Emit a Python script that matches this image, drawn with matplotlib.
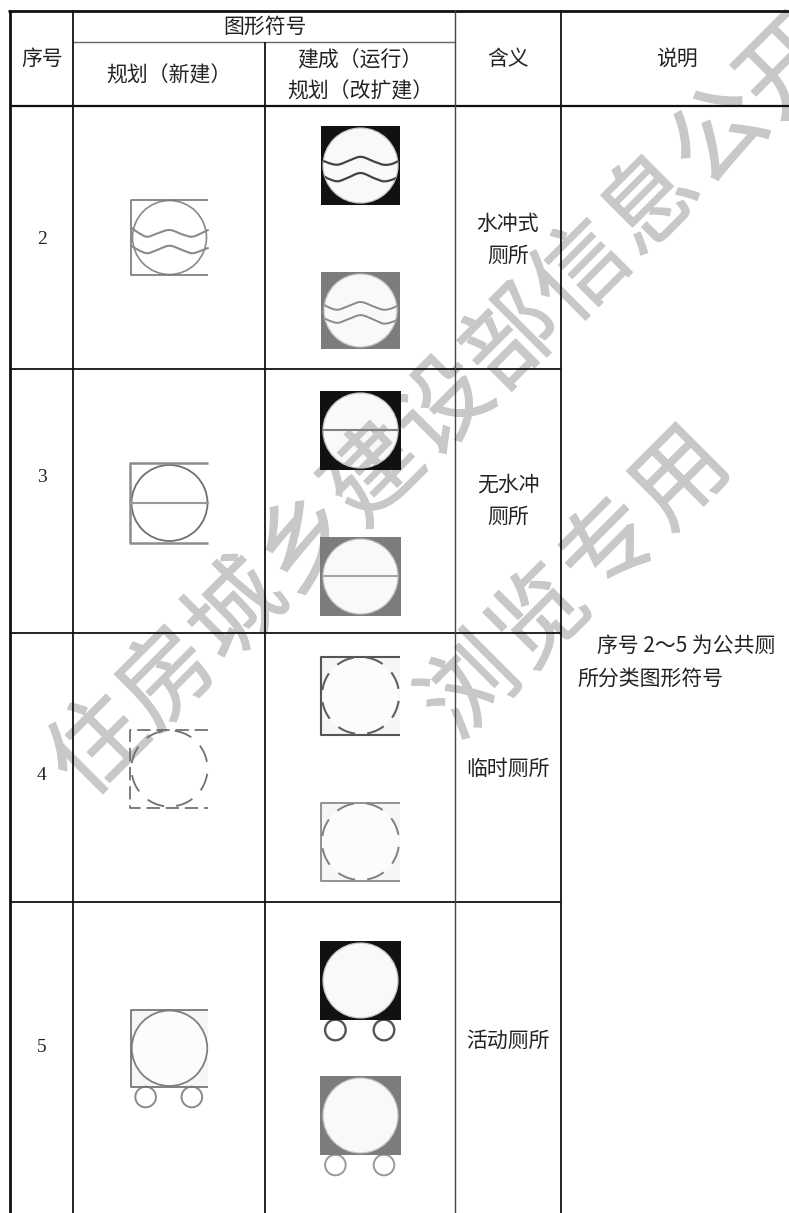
import matplotlib
matplotlib.use("Agg")
import matplotlib.pyplot as plt
import matplotlib.patheffects as pe
import numpy as np
from matplotlib.path import Path
from matplotlib.patches import Rectangle, Circle, Arc, PathPatch

plt.rcParams['font.family'] = ['Noto Sans CJK SC', 'DejaVu Sans']

# ---------- content ----------
header_top = "图形符号"
header_seq = "序号"
header_new = "规划（新建）"
header_built = ["建成（运行）", "规划（改扩建）"]
header_mean = "含义"
header_note = "说明"
row_numbers = ["2", "3", "4", "5"]
row_meanings = [["水冲式", "厕所"], ["无水冲", "厕所"], ["临时厕所"], ["活动厕所"]]
note_lines = ["序号 2～5 为公共厕", "所分类图形符号"]
watermark_a = "住房城乡建设部信息公开"
watermark_b = "浏览专用"

# layout in image pixels
W, H = 789, 1213
col_x = [10, 73.5, 265.5, 455.5, 561.5]
row_y = [105.5, 369, 633, 902]
row_text_y = [239, 478, 776, 1048]
meaning_y = [[224, 256], [485, 517], [769], [1041]]
INK = "#222222"
LINE = "#111111"
MARK = "#6f6f6f"
WM = "#c8c8c8"
GRAY = "#7c7c7c"

fig = plt.figure(figsize=(W/100, H/100), dpi=100, facecolor="white")
ax = fig.add_axes([0, 0, 1, 1])
ax.set_xlim(0, W)
ax.set_ylim(H, 0)
ax.axis("off")


def put(x, y, s, size=15, **kw):
    kw.setdefault("color", INK)
    kw.setdefault("zorder", 6)
    ax.text(x, y, s, fontsize=size, ha=kw.pop("ha", "center"), va="center", **kw)


# ---------- watermark ----------
thick = [pe.withStroke(linewidth=0.9, foreground=WM)]
for chars, x0, y0, dx, dy in ((watermark_a, 100, 748, 69, -67.8),
                              (watermark_b, 472, 690, 70, -70)):
    for i, ch in enumerate(chars):
        ax.text(x0 + dx*i, y0 + dy*i, ch, fontsize=68, rotation=45, color=WM,
                ha="center", va="center", rotation_mode="anchor", zorder=1,
                path_effects=thick)


# ---------- grid ----------
def hline(y, x0, x1, lw=1.3, c=LINE):
    ax.plot([x0, x1], [y, y], color=c, lw=lw, zorder=3, solid_capstyle="butt")


def vline(x, y0, y1, lw=1.3, c=LINE):
    ax.plot([x, x], [y0, y1], color=c, lw=lw, zorder=3, solid_capstyle="butt")


hline(11, 8.5, W, lw=2.0)
hline(42, col_x[1], col_x[3], lw=1.0, c="#666666")
hline(row_y[0], col_x[0], W, lw=1.6)
for y in row_y[1:]:
    hline(y, col_x[0], col_x[4], lw=1.3)
vline(col_x[0], 10, H, lw=2.0)
vline(col_x[1], 10, H)
vline(col_x[2], 42, H)
vline(col_x[3], 10, H, lw=1.0, c="#444444")
vline(col_x[4], 10, H)

# ---------- headers ----------
put(265, 27, header_top)
put(42, 59, header_seq)
put(169, 75, header_new)
put(360, 60, header_built[0])
put(360, 91, header_built[1])
put(508, 59, header_mean)
put(677, 59, header_note)

# ---------- rows ----------
for n, y in zip(row_numbers, row_text_y):
    put(42, y, n, size=14, family="Liberation Serif")
for lines, ys in zip(row_meanings, meaning_y):
    for s, y in zip(lines, ys):
        put(508, y, s)
put(597, 646, note_lines[0], ha="left")
put(577, 679, note_lines[1], ha="left")


# ---------- symbols ----------
WAVE_X = [0.0, 0.1, 0.21, 0.33, 0.5, 0.67, 0.79, 0.9, 1.0]
WAVE_TOP = [0.37, 0.44, 0.49, 0.45, 0.40, 0.46, 0.49, 0.45, 0.40]
WAVE_BOT = [0.61, 0.67, 0.71, 0.67, 0.61, 0.67, 0.71, 0.68, 0.64]
DARK_TOP = [0.43, 0.47, 0.49, 0.45, 0.39, 0.45, 0.49, 0.48, 0.43]
DARK_BOT = [0.62, 0.67, 0.70, 0.66, 0.595, 0.66, 0.70, 0.68, 0.63]
GRAY_TOP = [0.40, 0.46, 0.49, 0.45, 0.39, 0.45, 0.49, 0.47, 0.42]
GRAY_BOT = [0.58, 0.63, 0.66, 0.62, 0.56, 0.62, 0.67, 0.65, 0.60]


def smooth(xs, ys, n=20):
    """Catmull-Rom through the read points."""
    px, py = [], []
    X = [xs[0]] + list(xs) + [xs[-1]]
    Y = [ys[0]] + list(ys) + [ys[-1]]
    for i in range(1, len(X)-2):
        for k in range(n):
            t = k/n
            for src, dst in ((X, px), (Y, py)):
                p0, p1, p2, p3 = src[i-1], src[i], src[i+1], src[i+2]
                dst.append(0.5*(2*p1 + (p2-p0)*t + (2*p0-5*p1+4*p2-p3)*t*t
                                + (3*p1-p0-3*p2+p3)*t**3))
    return px, py


def waves(x0, y0, w, h, lines, c, lw, clip=None):
    for ys in lines:
        px, py = smooth(WAVE_X, ys)
        ln, = ax.plot([x0 + a*w for a in px], [y0 + b*h for b in py], color=c, lw=lw, zorder=5)
        if clip is not None:
            ln.set_clip_path(clip)


def outline_box(x0, y0, w, h, c=MARK, lw=1.0, dashed=False, bg=None):
    if bg:
        ax.add_patch(Rectangle((x0, y0), w, h, fc=bg, ec="none", zorder=0.4))
    style = dict(color=c, lw=lw, zorder=5, solid_capstyle="butt", dash_capstyle="butt")
    if dashed:
        style["ls"] = (0, (8, 3.5))
    ax.plot([x0 + w, x0, x0, x0 + w], [y0, y0, y0 + h, y0 + h], **style)


def disc(x0, y0, w, h, c=MARK, lw=1.0, fc="none", dashed=False):
    cx, cy = x0 + w/2, y0 + h/2
    r = min(w, h)/2 - 0.5
    ax.add_patch(Circle((cx, cy), r, fc=fc, ec="none", zorder=0.5))
    if dashed:
        for a in range(8, 360, 45):
            ax.add_patch(Arc((cx, cy), 2*r, 2*r, theta1=a, theta2=a + 27, color=c, lw=lw, zorder=5))
    else:
        ax.add_patch(Circle((cx, cy), r, fc="none", ec=c, lw=lw, zorder=4))


def wheels(x0, w, y, c, lw=1.2):
    for fx in (0.19, 0.79):
        ax.add_patch(Circle((x0 + fx*w, y), 10.3, fc="none", ec=c, lw=lw, zorder=1.5))


def filled(x0, y0, w, h, c):
    """Square with a round opening: the watermark shows in the opening only."""
    cx, cy, r = x0 + w/2, y0 + h/2, min(w, h)/2 - 2
    ax.add_patch(Circle((cx, cy), r, fc="#f9f9f9", ec="none", zorder=0.5))
    t = np.linspace(2*np.pi, 0, 121)
    outer = [(x0, y0), (x0 + w, y0), (x0 + w, y0 + h), (x0, y0 + h), (x0, y0)]
    inner = np.column_stack([cx + r*np.cos(t), cy + r*np.sin(t)])
    verts = np.vstack([outer, inner])
    codes = [Path.MOVETO] + [Path.LINETO]*4 + [Path.MOVETO] + [Path.LINETO]*120
    ax.add_patch(PathPatch(Path(verts, codes), fc=c, ec="none", zorder=2))
    circ = Circle((cx, cy), r, fc="none", ec="#c4c4c4", lw=0.9, zorder=2.1)
    ax.add_patch(circ)
    return circ


BX, BW = 131, 77

# row 2
outline_box(BX, 200, BW, 75, c="#777777", lw=1.2)
disc(BX, 200, BW, 75, c="#8a8a8a", lw=1.2, fc="white")
waves(BX, 200, BW, 75, [WAVE_TOP, WAVE_BOT], "#8a8a8a", 1.5)
c1 = filled(321, 126, 79, 79, "#111111")
waves(321, 126, 79, 79, [DARK_TOP, DARK_BOT], "#444444", 1.6, clip=c1)
c2 = filled(321, 272, 79, 77, GRAY)
waves(321, 272, 79, 77, [GRAY_TOP, GRAY_BOT], "#8a8a8a", 1.4, clip=c2)

# row 3
outline_box(BX - 0.5, 463, BW + 0.5, 80, c="#8c8c8c", lw=1.8)
disc(BX, 463, BW, 80, c="#707070", lw=1.3, fc="white")
ax.plot([BX, BX + BW], [503, 503], color="#999999", lw=1.5, zorder=5)
for y0, h, c, lc in ((391, 79, "#111111", "#808080"), (537, 79, GRAY, "#a5a5a5")):
    circ = filled(320, y0, 81, h, c)
    ln, = ax.plot([320, 401], [y0 + h/2 - 0.5, y0 + h/2 - 0.5], color=lc, lw=1.5, zorder=5)
    ln.set_clip_path(circ)

# row 4
outline_box(BX - 0.5, 729.5, BW + 0.5, 78, c="#666666", lw=1.2, dashed=True)
disc(BX, 729.5, BW, 78, c="#707070", lw=1.3, dashed=True, fc="none")
outline_box(321, 656.5, 79, 78, c="#555555", lw=1.5, bg="#f6f6f6")
disc(321, 656.5, 79, 78, c="#606060", lw=1.5, dashed=True, fc="#fcfcfc")
outline_box(321, 802.5, 79, 78, c="#8a8a8a", lw=1.3, bg="#f6f6f6")
disc(321, 802.5, 79, 78, c="#808080", lw=1.4, dashed=True, fc="#fcfcfc")

# row 5
outline_box(BX, 1010, BW, 76.5, c="#777777", lw=1.3, bg="#f6f6f6")
disc(BX, 1010, BW, 76.5, c="#808080", lw=1.3, fc="#fcfcfc")
wheels(BX, BW, 1097, "#8a8a8a", lw=1.4)
filled(320, 941, 81, 79, "#111111")
wheels(320, 81, 1030, "#555555", lw=1.7)
filled(320, 1076, 81, 79, GRAY)
wheels(320, 81, 1165, "#999999", lw=1.4)

fig.savefig("out.png", dpi=100, facecolor="white")
